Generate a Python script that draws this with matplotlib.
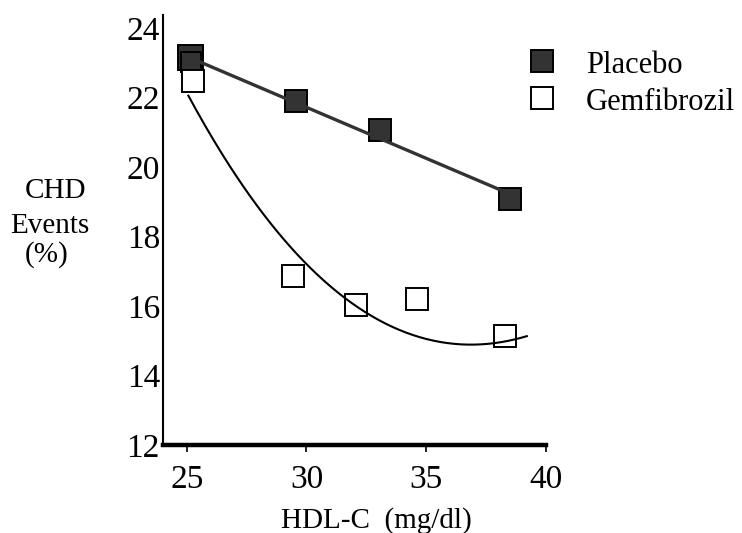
import numpy as np
import matplotlib
matplotlib.use("Agg")
import matplotlib.pyplot as plt
from matplotlib.lines import Line2D

plt.rcParams['font.family'] = ['Liberation Serif', 'DejaVu Serif']

# ---- data ----
placebo_x = [25.15, 29.57, 33.07, 38.50]
placebo_y = [23.17, 21.89, 21.06, 19.08]
placebo_extra_x = [25.20]      # second, smaller marker drawn at the first point
placebo_extra_y = [23.03]
placebo_fit_x = [25.21, 38.43]
placebo_fit_y = [23.12, 19.24]

gem_x = [25.26, 29.45, 32.08, 34.63, 38.30]
gem_y = [22.47, 16.87, 16.03, 16.19, 15.15]
gem_curve_x = [25.07, 26.81, 28.90, 29.73, 31.68, 33.91, 35.86, 37.79, 39.20]
gem_curve_y = [22.07, 20.01, 17.90, 17.47, 16.27, 15.31, 14.90, 14.88, 15.17]

x_ticks = [25, 30, 35, 40]
y_ticks = [12, 14, 16, 18, 20, 22, 24]
series_labels = ["Placebo", "Gemfibrozil"]
x_label = "HDL-C  (mg/dl)"
y_label_lines = ["CHD", "Events", "(%)"]

W, H = 742, 533
fig = plt.figure(figsize=(W / 100, H / 100), dpi=100)
ax = fig.add_axes([162.75 / W, (H - 445) / H, (546 - 162.75) / W, (445 - 15) / H])
ax.set_xlim(24, 40)
ax.set_ylim(12, 24.37)

dark = '#333333'
MS = 15.5
# placebo markers
ax.plot(placebo_x[:1], placebo_y[:1], ls='none', marker='s', ms=18, mfc=dark,
        mec='black', mew=1.4, zorder=3)
ax.plot(placebo_extra_x, placebo_extra_y, ls='none', marker='s', ms=14, mfc=dark,
        mec='black', mew=1.4, zorder=3)
ax.plot(placebo_x[1:], placebo_y[1:], ls='none', marker='s', ms=MS, mfc=dark,
        mec='black', mew=1.4, zorder=3)
ax.plot(placebo_fit_x, placebo_fit_y, color=dark, lw=2.4, zorder=3.5,
        solid_capstyle='butt')

# gemfibrozil markers and curve
ax.plot(gem_x, gem_y, ls='none', marker='s', ms=MS, mfc='white',
        mec='black', mew=1.4, zorder=4)
coef = np.polyfit(gem_curve_x, gem_curve_y, 3)
xs = np.linspace(min(gem_curve_x), max(gem_curve_x), 200)
ax.plot(xs, np.polyval(coef, xs), color='black', lw=1.5, zorder=5)

# axes styling
for s in ['top', 'right']:
    ax.spines[s].set_visible(False)
ax.spines['left'].set_linewidth(1.5)
ax.spines['bottom'].set_linewidth(3.2)
ax.set_xticks(x_ticks)
ax.set_yticks(y_ticks)
ax.tick_params(axis='x', direction='out', length=5, width=1.2, pad=9, labelsize=24)
ax.tick_params(axis='y', length=0, pad=2, labelsize=24)

# axis labels
fig.text(376 / W, (H - 528) / H, x_label, ha='center', va='baseline', fontsize=21)
for txt, cx, by in zip(y_label_lines, [55, 50, 47], [198.3, 232.7, 262]):
    fig.text(cx / W, (H - by) / H, txt, ha='center', va='baseline', fontsize=21)

# legend (manual)
fig.add_artist(Line2D([542 / W], [(H - 61.3) / H], ls='none', marker='s', ms=MS,
                      mfc=dark, mec='black', mew=1.4))
fig.add_artist(Line2D([542 / W], [(H - 98.3) / H], ls='none', marker='s', ms=MS,
                      mfc='white', mec='black', mew=1.4))
fig.text(586 / W, (H - 73.3) / H, series_labels[0], ha='left', va='baseline', fontsize=22)
fig.text(586 / W, (H - 110) / H, series_labels[1], ha='left', va='baseline', fontsize=22)

fig.savefig('out.png', dpi=100)
